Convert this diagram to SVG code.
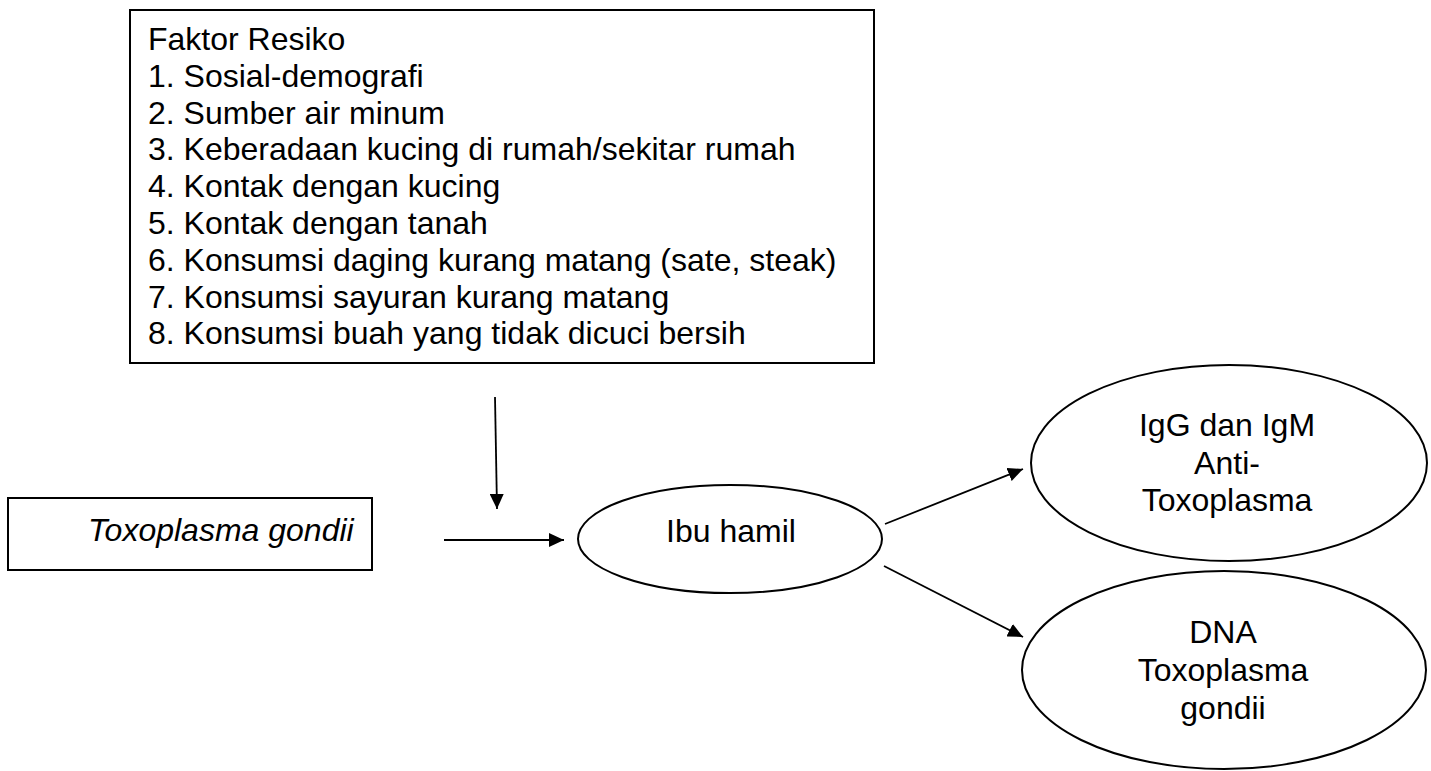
<svg xmlns="http://www.w3.org/2000/svg" width="1431" height="771" viewBox="0 0 1431 771">
<style>
  .shape { fill: #ffffff; stroke: #000000; stroke-width: 2; }
  .t { font-family: "Liberation Sans", Arial, sans-serif; font-size: 32px; fill: #000000; }
  .c { text-anchor: middle; }
  .conn { stroke: #000000; stroke-width: 1.8; fill: none; marker-end: url(#arrow); }
</style>
<defs>
  <marker id="arrow" viewBox="0 0 15 14" refX="15" refY="7" markerWidth="15" markerHeight="14" markerUnits="userSpaceOnUse" orient="auto">
    <path d="M0,0 L15,7 L0,14 Z" fill="#000000"/>
  </marker>
</defs>
<rect width="1431" height="771" fill="#ffffff"/>
<g id="faktor-resiko">
  <rect class="shape" x="130" y="10" width="744" height="353"/>
  <text class="t" x="148" y="50">Faktor Resiko</text>
  <text class="t" x="148" y="86.8">1. Sosial-demografi</text>
  <text class="t" x="148" y="123.6">2. Sumber air minum</text>
  <text class="t" x="148" y="160.4">3. Keberadaan kucing di rumah/sekitar rumah</text>
  <text class="t" x="148" y="197.2">4. Kontak dengan kucing</text>
  <text class="t" x="148" y="234">5. Kontak dengan tanah</text>
  <text class="t" x="148" y="270.8">6. Konsumsi daging kurang matang (sate, steak)</text>
  <text class="t" x="148" y="307.6">7. Konsumsi sayuran kurang matang</text>
  <text class="t" x="148" y="344.4">8. Konsumsi buah yang tidak dicuci bersih</text>
</g>
<g id="toxoplasma-gondii">
  <rect class="shape" x="8" y="498" width="364" height="72"/>
  <text class="t" x="88" y="541" font-style="italic" font-size="31.3">Toxoplasma gondii</text>
</g>
<g id="ibu-hamil">
  <ellipse class="shape" cx="730" cy="539" rx="152" ry="54"/>
  <text class="t c" x="731" y="542">Ibu hamil</text>
</g>
<g id="igg-igm">
  <ellipse class="shape" cx="1229" cy="463" rx="198" ry="98"/>
  <text class="t c" x="1227" y="436">IgG dan IgM</text>
  <text class="t c" x="1227" y="474">Anti-</text>
  <text class="t c" x="1227" y="511">Toxoplasma</text>
</g>
<g id="dna">
  <ellipse class="shape" cx="1224" cy="670" rx="202" ry="99"/>
  <text class="t c" x="1223" y="643">DNA</text>
  <text class="t c" x="1223" y="681">Toxoplasma</text>
  <text class="t c" x="1223" y="719">gondii</text>
</g>
<g id="connectors">
  <line class="conn" x1="495" y1="397" x2="497" y2="509"/>
  <line class="conn" x1="444" y1="540" x2="564" y2="540"/>
  <line class="conn" x1="885" y1="524" x2="1023" y2="469"/>
  <line class="conn" x1="884" y1="566" x2="1023" y2="637"/>
</g>
</svg>
